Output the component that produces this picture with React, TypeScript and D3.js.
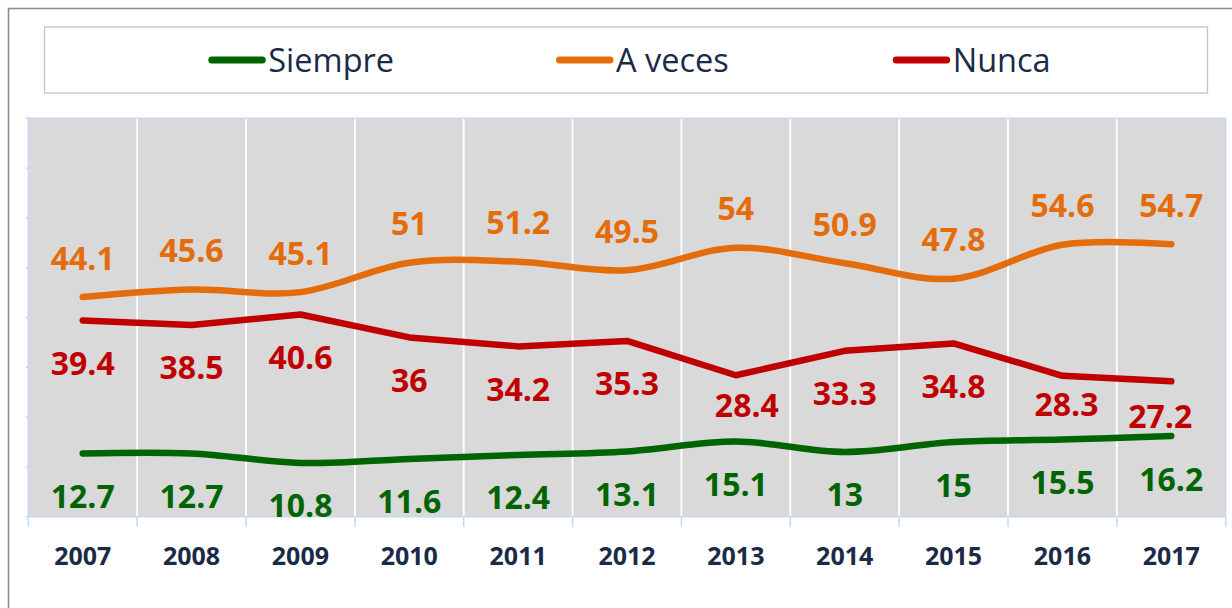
import React from 'react';
import * as d3 from 'd3';

const years = ['2007', '2008', '2009', '2010', '2011', '2012', '2013', '2014', '2015', '2016', '2017'];
const siempre = [12.7, 12.7, 10.8, 11.6, 12.4, 13.1, 15.1, 13, 15, 15.5, 16.2];
const aVeces = [44.1, 45.6, 45.1, 51, 51.2, 49.5, 54, 50.9, 47.8, 54.6, 54.7];
const nunca = [39.4, 38.5, 40.6, 36, 34.2, 35.3, 28.4, 33.3, 34.8, 28.3, 27.2];
const yTicks = [0, 10, 20, 30, 40, 50, 60, 70, 80];
const seriesNames = ['Siempre', 'A veces', 'Nunca'];

// manual nudges of the "Nunca" data labels (px)
const nuncaLabelDx = [0, 0, 0, 0, 0, 0, 11, 0, 0, 4, -11];
const nuncaLabelDy = [0, 0, 0, 0, 0, 0, -13, 0, 0, -14, -8];

const TEXT = '#1b2a47';
const FONT = '"Open Sans", "Noto Sans", sans-serif';

export default function App() {
  const W = 1232;
  const H = 608;
  const plot = { left: 28.3, right: 1225.7, top: 118.3, bottom: 516.7 };

  const x = d3.scaleBand<string>().domain(years).range([plot.left, plot.right]).paddingInner(0).paddingOuter(0);
  const y = d3.scaleLinear().domain([0, 80]).range([plot.bottom, plot.top]);
  const cx = (yr: string) => (x(yr) as number) + x.bandwidth() / 2;

  const smooth = d3.curveCardinal.tension(0);

  const series = [
    { name: seriesNames[0], values: siempre, color: '#006400', curve: smooth, labelOffset: 43, dx: years.map(() => 0), dy: years.map(() => 0) },
    { name: seriesNames[1], values: aVeces, color: '#E46C0A', curve: smooth, labelOffset: -39, dx: years.map(() => 0), dy: years.map(() => 0) },
    { name: seriesNames[2], values: nunca, color: '#C00000', curve: d3.curveLinear, labelOffset: 43, dx: nuncaLabelDx, dy: nuncaLabelDy },
  ];

  const boundaries = years.map((yr) => x(yr) as number).concat([plot.right]);

  const legendX = [208.3, 556, 892.7];
  const legendLineW = 57.5;

  return (
    <svg width={W} height={H} style={{ position: 'absolute', left: 0, top: 0 }} fontFamily={FONT}>
      <rect x={0} y={0} width={W} height={H} fill="#ffffff" />
      {/* outer chart border (extends beyond the view on the right/bottom) */}
      <rect x={8.5} y={8.5} width={1300} height={700} fill="none" stroke="#8c8c8c" strokeWidth={1.6} />

      {/* legend */}
      <rect x={44.5} y={27} width={1163} height={66} fill="#ffffff" stroke="#c3c3c3" strokeWidth={1.3} />
      {series.map((s, i) => (
        <g key={s.name}>
          <line
            x1={legendX[i] + 3.5}
            x2={legendX[i] + legendLineW - 3.5}
            y1={60}
            y2={60}
            stroke={s.color}
            strokeWidth={7}
            strokeLinecap="round"
          />
          <text x={legendX[i] + legendLineW + 2.5} y={71.5} fontSize={32.5} fill={TEXT}>
            {s.name}
          </text>
        </g>
      ))}

      {/* plot background */}
      <rect x={plot.left} y={plot.top} width={plot.right - plot.left} height={plot.bottom - plot.top} fill="#d9d9d9" />
      {/* vertical white gridlines */}
      {boundaries.slice(1, -1).map((bx, i) => (
        <line key={'g' + i} x1={bx} x2={bx} y1={plot.top} y2={plot.bottom} stroke="#ffffff" strokeWidth={1.8} />
      ))}
      {/* plot border / axes */}
      <line x1={plot.left - 1.5} x2={plot.right} y1={plot.top} y2={plot.top} stroke="#c6d9f1" strokeWidth={1.5} />
      <line x1={plot.right} x2={plot.right} y1={plot.top} y2={plot.bottom} stroke="#c6d9f1" strokeWidth={1.5} />
      <line x1={plot.left} x2={plot.left} y1={plot.top} y2={plot.bottom} stroke="#c6d9f1" strokeWidth={1.5} />
      <line x1={plot.left - 1.5} x2={plot.right} y1={plot.bottom} y2={plot.bottom} stroke="#c6d9f1" strokeWidth={1.5} />
      {yTicks.map((t) => (
        <line key={'yt' + t} x1={plot.left - 2.5} x2={plot.left} y1={y(t)} y2={y(t)} stroke="#c6d9f1" strokeWidth={1.5} />
      ))}
      {boundaries.map((bx, i) => (
        <line key={'xt' + i} x1={bx} x2={bx} y1={plot.bottom} y2={plot.bottom + 10} stroke="#c6d9f1" strokeWidth={1.5} />
      ))}

      {/* x labels */}
      {years.map((yr) => (
        <text key={'xl' + yr} x={cx(yr)} y={565} textAnchor="middle" fontSize={25} fontWeight={700} fill={TEXT}>
          {yr}
        </text>
      ))}

      {/* series lines */}
      {series.map((s) => {
        const line = d3
          .line<number>()
          .x((_, i) => cx(years[i]))
          .y((v) => y(v))
          .curve(s.curve);
        return (
          <path
            key={'p' + s.name}
            d={line(s.values) || ''}
            fill="none"
            stroke={s.color}
            strokeWidth={6.5}
            strokeLinecap="round"
            strokeLinejoin="round"
          />
        );
      })}

      {/* data labels */}
      {series.map((s) =>
        s.values.map((v, i) => (
          <text
            key={'dl' + s.name + i}
            x={cx(years[i]) + s.dx[i]}
            y={y(v) + s.labelOffset + s.dy[i] + 11.5}
            textAnchor="middle"
            fontSize={32}
            fontWeight={700}
            fill={s.color}
          >
            {String(v)}
          </text>
        ))
      )}
    </svg>
  );
}
